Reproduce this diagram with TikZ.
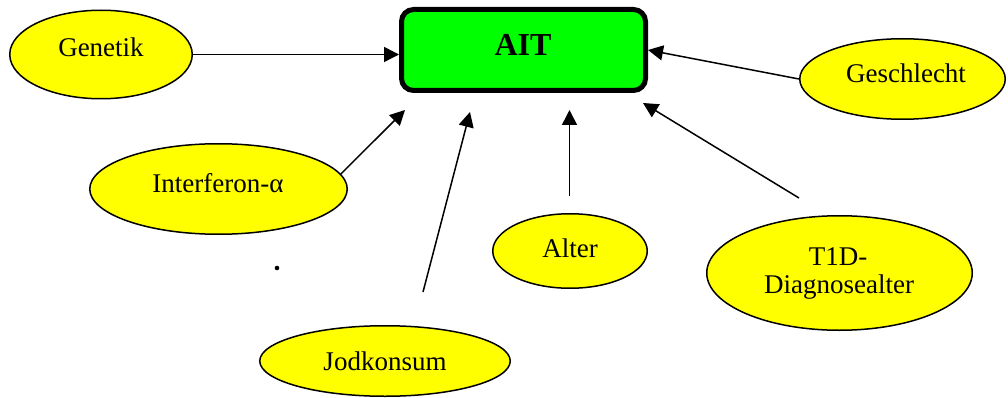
\documentclass[tikz,border=0pt]{standalone}
\usepackage{fontspec}
\setmainfont{Liberation Serif}
\usetikzlibrary{arrows.meta,shapes.geometric}
\definecolor{boxgreen}{RGB}{0,255,0}
\definecolor{ovalyellow}{RGB}{255,255,0}
\begin{document}
\begin{tikzpicture}[x=1pt,y=-1pt,
  factor/.style={ellipse, draw=black, line width=1.5pt, fill=ovalyellow,
                 inner sep=0pt, outer sep=0.75pt},
  lbl/.style={inner sep=0pt, font=\fontsize{27}{28}\selectfont},
  outcome/.style={rectangle, rounded corners=12pt, draw=black, line width=5pt,
                  fill=boxgreen, inner sep=0pt, outer sep=2.5pt},
  influence/.style={line width=1.5pt, -{Triangle[length=15pt,width=15pt]}},
]
\useasboundingbox (0,0) rectangle (1008,398);

% central outcome box
\node[outcome, minimum width=244pt, minimum height=81pt] (ait) at (523.5,50) {};
\node[inner sep=0pt, anchor=base, font=\fontsize{32}{34}\selectfont\bfseries] (aitText) at (523,56) {AIT};

% influencing factors
\node[factor, minimum width=182.5pt, minimum height=88.5pt] (gen) at (101,54.5) {};
\node[lbl, anchor=base] (genText) at (101,57) {Genetik};

\node[factor, minimum width=257.5pt, minimum height=90.5pt] (ifn) at (218.5,189) {};
\node[lbl, anchor=base] (ifnText) at (218,192) {Interferon-α};

\node[factor, minimum width=154.5pt, minimum height=74.5pt] (alt) at (570,251) {};
\node[lbl, anchor=base] (altText) at (570,257) {Alter};

\node[factor, minimum width=265.5pt, minimum height=114.5pt] (t1d) at (839.5,273) {};
\node[lbl, anchor=base] (t1dTextA) at (838,265) {T1D-};
\node[lbl, anchor=base] (t1dTextB) at (839,293) {Diagnosealter};

\node[factor, minimum width=205.5pt, minimum height=80.5pt] (gesch) at (902.5,79) {};
\node[lbl, anchor=base] (geschText) at (906,83) {Geschlecht};

\node[factor, minimum width=250.5pt, minimum height=70.5pt] (jod) at (385,361) {};
\node[lbl, anchor=base] (jodText) at (385,370) {Jodkonsum};

% free arrow ends
\coordinate (ifnTip) at (405,110);
\coordinate (jodFoot) at (423,292);
\coordinate (jodTip) at (470,112);
\coordinate (altFoot) at (569.5,196);
\coordinate (altTip) at (569.5,110);
\coordinate (t1dFoot) at (799,198);
\coordinate (t1dTip) at (643,103);

% influences
\draw[influence] (gen.east) -- (gen.east -| ait.west);
\draw[influence] (ifn.7) -- (ifnTip);
\draw[influence] (jodFoot) -- (jodTip);
\draw[influence] (altFoot) -- (altTip);
\draw[influence] (t1dFoot) -- (t1dTip);
\draw[influence] (gesch.west) -- (ait.east);

% stray dot
\fill (277,268) circle (2.3pt);
\end{tikzpicture}
\end{document}
